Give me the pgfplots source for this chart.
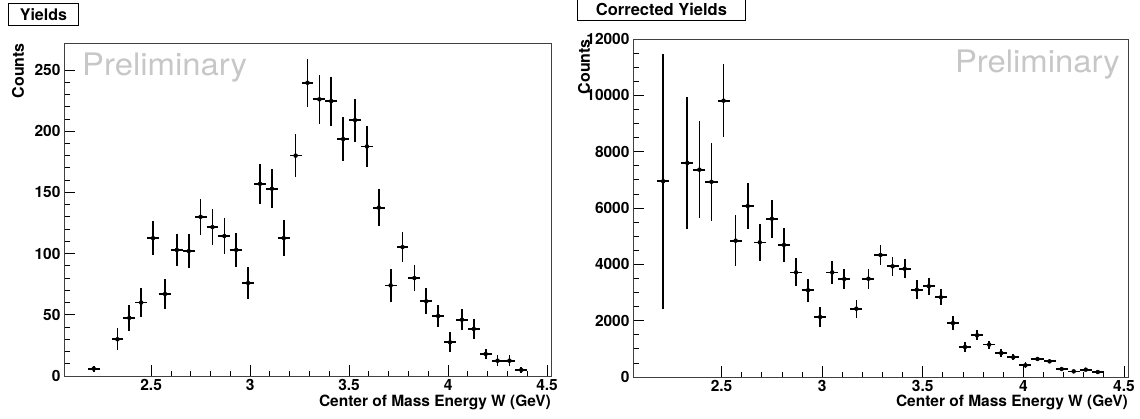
\documentclass[border=0pt]{standalone}
\usepackage{fontspec}
\setmainfont{TeX Gyre Heros}
\usepackage{pgfplots}
\usepackage{pgfplotstable}
\pgfplotsset{compat=1.18}

\pgfplotstableread{
x y ex ey
2.21 6 0.03 2.5
2.33 30 0.03 9
2.39 47.5 0.03 10.5
2.45 60 0.03 11.6
2.51 112.6 0.03 13.6
2.57 67 0.03 12.3
2.63 103 0.03 13
2.69 102 0.03 13.8
2.75 130 0.03 14.9
2.81 121.6 0.03 15
2.87 114.3 0.03 14.7
2.93 103 0.03 13.6
2.99 76 0.03 13
3.05 157 0.03 16.4
3.11 153 0.03 16
3.17 112.6 0.03 14.7
3.23 180 0.03 17.7
3.29 239.5 0.03 19.4
3.35 226 0.03 20
3.41 224.5 0.03 20
3.47 193.5 0.03 18
3.53 209 0.03 17.5
3.59 187.5 0.03 16.8
3.65 137.5 0.03 15.3
3.71 74 0.03 13.2
3.77 105.3 0.03 12.5
3.83 80 0.03 10.5
3.89 61 0.03 10.5
3.95 49 0.03 8.9
4.01 27.5 0.03 8.2
4.07 46 0.03 8.7
4.13 38.5 0.03 7.9
4.19 18 0.03 4.2
4.25 12.5 0.03 4.4
4.31 12.5 0.03 4.4
4.37 5 0.03 2.3
}\yields

\pgfplotstableread{
x y ex ey
2.21 6950 0.03 4520
2.33 7600 0.03 2340
2.39 7360 0.03 1715
2.45 6930 0.03 1380
2.51 9810 0.03 1300
2.57 4840 0.03 910
2.63 6070 0.03 800
2.69 4780 0.03 665
2.75 5620 0.03 670
2.81 4690 0.03 590
2.87 3715 0.03 500
2.93 3080 0.03 400
2.99 2130 0.03 370
3.05 3715 0.03 400
3.11 3480 0.03 360
3.17 2425 0.03 320
3.23 3490 0.03 355
3.29 4330 0.03 355
3.35 3930 0.03 340
3.41 3845 0.03 340
3.47 3100 0.03 330
3.53 3220 0.03 300
3.59 2830 0.03 280
3.65 1916 0.03 235
3.71 1065 0.03 160
3.77 1480 0.03 180
3.83 1150 0.03 140
3.89 850 0.03 135
3.95 700 0.03 110
4.01 414 0.03 110
4.07 640 0.03 80
4.13 556 0.03 70
4.19 284 0.03 50
4.25 200 0.03 40
4.31 260 0.03 50
4.37 177 0.03 40
}\corrected

\pgfplotsset{
  rootstyle/.style={
    scale only axis, anchor=south west,
    xmin=2.06, xmax=4.52,
    xtick={2.5,3,3.5,4,4.5},
    minor x tick num=4,
    tick pos=left, tick align=inside,
    major tick length=11pt, minor tick length=5.5pt,
    axis line style={black!75, line width=0.8pt},
    every tick/.style={black, line width=0.8pt},
    ticklabel style={font=\bfseries\fontsize{15.5}{16}\selectfont},
    /pgf/number format/assume math mode=true,
    scaled y ticks=false,
    /pgf/number format/1000 sep={},
  },
  errstyle/.style={only marks, mark=none,
    error bars/.cd, x dir=both, x explicit, y dir=both, y explicit,
    error mark=none, error bar style={draw=black, line width=1.7pt}},
}

\begin{document}
\begin{tikzpicture}[x=1pt,y=1pt]
\path[use as bounding box] (0,0) rectangle (1140,418);

\begin{axis}[rootstyle, at={(64pt,42pt)}, width=487pt, height=333pt,
  ymin=0, ymax=272, ytick={0,50,100,150,200,250}, minor y tick num=4]
\addplot[errstyle] table[x=x, y=y, x error=ex, y error=ey] {\yields};
\end{axis}

\begin{axis}[rootstyle, at={(633pt,41pt)}, width=495pt, height=338pt,
  ymin=0, ymax=12000, ytick={0,2000,4000,6000,8000,10000,12000}, minor y tick num=3]
\addplot[errstyle] table[x=x, y=y, x error=ex, y error=ey] {\corrected};
\end{axis}

% titles
\node[draw=black, line width=0.8pt, fill=white, minimum width=70pt, minimum height=22pt,
  inner sep=0pt, anchor=north west, font=\bfseries\fontsize{16}{16}\selectfont] at (8,415) {Yields};
\node[draw=black, line width=0.8pt, fill=white, minimum width=168pt, minimum height=22pt,
  inner sep=0pt, anchor=north west, font=\bfseries\fontsize{16.5}{16.5}\selectfont] at (577,420) {Corrected Yields};

% axis labels
\node[rotate=90, anchor=east, inner sep=0pt, font=\bfseries\fontsize{16}{16}\selectfont] at (18,375) {Counts};
\node[rotate=90, anchor=east, inner sep=0pt, font=\bfseries\fontsize{16}{16}\selectfont] at (584,379) {Counts};
\node[anchor=east, inner sep=0pt, font=\bfseries\fontsize{15.5}{16}\selectfont] at (551,16) {Center of Mass Energy W (GeV)};
\node[anchor=east, inner sep=0pt, font=\bfseries\fontsize{15.5}{16}\selectfont] at (1128,16) {Center of Mass Energy W (GeV)};

% watermark
\node[anchor=base west, inner sep=0pt, text=black!22, xscale=1.06, font=\fontsize{31}{31}\selectfont] at (82,342) {Preliminary};
\node[anchor=base east, inner sep=0pt, text=black!22, xscale=1.06, font=\fontsize{31}{31}\selectfont] at (1120,345) {Preliminary};
\end{tikzpicture}
\end{document}
